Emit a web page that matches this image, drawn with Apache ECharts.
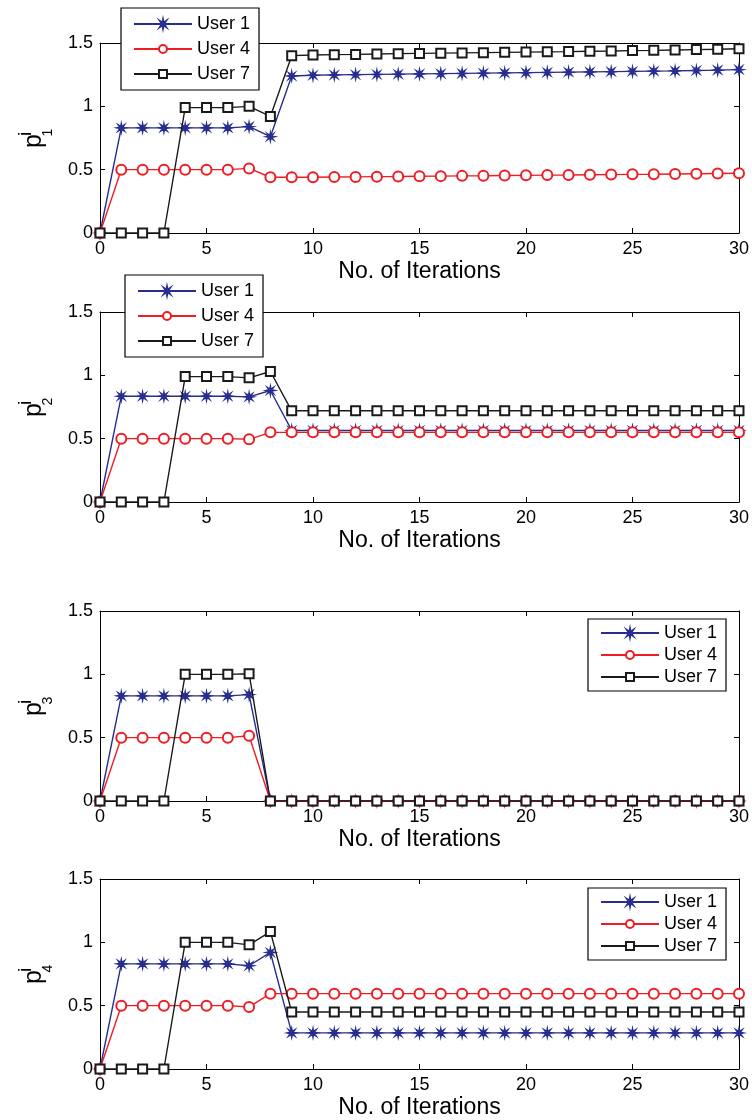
<!DOCTYPE html>
<html>
<head>
<meta charset="utf-8">
<script src="https://cdn.jsdelivr.net/npm/echarts@6/dist/echarts.min.js"></script>
<style>
html,body{margin:0;padding:0;background:#fff;}
#chart{width:752px;height:1120px;}
</style>
</head>
<body>
<div id="chart"></div>
<script>
// ---- data ----
var iterations = [0,1,2,3,4,5,6,7,8,9,10,11,12,13,14,15,16,17,18,19,20,21,22,23,24,25,26,27,28,29,30];
var seriesNames = ['User 1', 'User 4', 'User 7'];
var xTickLabels = ['0','5','10','15','20','25','30'];
var yTickLabels = ['0','0.5','1','1.5'];
var ySubscripts = ['1','2','3','4'];
var xAxisTitle = 'No. of Iterations';

var p1User1 = [0,0.83,0.83,0.83,0.83,0.83,0.83,0.84,0.76,1.24,1.245,1.248,1.25,1.252,1.254,1.256,1.258,1.26,1.262,1.264,1.266,1.268,1.27,1.272,1.274,1.276,1.278,1.28,1.283,1.286,1.29];
var p1User4 = [0,0.5,0.5,0.5,0.5,0.5,0.5,0.51,0.44,0.44,0.44,0.442,0.443,0.445,0.446,0.448,0.449,0.451,0.452,0.454,0.455,0.457,0.458,0.46,0.461,0.463,0.464,0.466,0.468,0.47,0.472];
var p1User7 = [0,0,0,0,0.99,0.99,0.99,1.0,0.92,1.40,1.405,1.408,1.41,1.413,1.416,1.418,1.42,1.422,1.424,1.426,1.428,1.43,1.432,1.435,1.437,1.44,1.442,1.445,1.448,1.451,1.455];

var p2User1 = [0,0.835,0.835,0.835,0.835,0.835,0.835,0.83,0.88,0.565,0.565,0.565,0.565,0.565,0.565,0.565,0.565,0.565,0.565,0.565,0.565,0.565,0.565,0.565,0.565,0.565,0.565,0.565,0.565,0.565,0.565];
var p2User4 = [0,0.5,0.5,0.5,0.5,0.5,0.5,0.495,0.55,0.55,0.55,0.55,0.55,0.55,0.55,0.55,0.55,0.55,0.55,0.55,0.55,0.55,0.55,0.55,0.55,0.55,0.55,0.55,0.55,0.55,0.55];
var p2User7 = [0,0,0,0,0.99,0.99,0.99,0.98,1.03,0.72,0.72,0.72,0.72,0.72,0.72,0.72,0.72,0.72,0.72,0.72,0.72,0.72,0.72,0.72,0.72,0.72,0.72,0.72,0.72,0.72,0.72];

var p3User1 = [0,0.83,0.83,0.83,0.83,0.83,0.83,0.84,0,0,0,0,0,0,0,0,0,0,0,0,0,0,0,0,0,0,0,0,0,0,0];
var p3User4 = [0,0.5,0.5,0.5,0.5,0.5,0.5,0.515,0,0,0,0,0,0,0,0,0,0,0,0,0,0,0,0,0,0,0,0,0,0,0];
var p3User7 = [0,0,0,0,1.0,1.0,1.0,1.005,0,0,0,0,0,0,0,0,0,0,0,0,0,0,0,0,0,0,0,0,0,0,0];

var p4User1 = [0,0.83,0.83,0.83,0.83,0.83,0.83,0.815,0.92,0.285,0.285,0.285,0.285,0.285,0.285,0.285,0.285,0.285,0.285,0.285,0.285,0.285,0.285,0.285,0.285,0.285,0.285,0.285,0.285,0.285,0.285];
var p4User4 = [0,0.5,0.5,0.5,0.5,0.5,0.5,0.49,0.595,0.595,0.595,0.595,0.595,0.595,0.595,0.595,0.595,0.595,0.595,0.595,0.595,0.595,0.595,0.595,0.595,0.595,0.595,0.595,0.595,0.595,0.595];
var p4User7 = [0,0,0,0,1.0,1.0,1.0,0.98,1.085,0.45,0.45,0.45,0.45,0.45,0.45,0.45,0.45,0.45,0.45,0.45,0.45,0.45,0.45,0.45,0.45,0.45,0.45,0.45,0.45,0.45,0.45];

var panels = [
  [p1User1, p1User4, p1User7],
  [p2User1, p2User4, p2User7],
  [p3User1, p3User4, p3User7],
  [p4User1, p4User4, p4User7]
];

// ---- styles / layout ----
var FONT = 'Liberation Sans, Arial, Helvetica, sans-serif';
var colors = ['#272e8f', '#ee1d23', '#1a1a1a'];
var asterisk = 'path://M20,10 L13.23,8.66 L17.07,2.93 L11.34,6.77 L10,0 L8.66,6.77 L2.93,2.93 L6.77,8.66 L0,10 L6.77,11.34 L2.93,17.07 L8.66,13.23 L10,20 L11.34,13.23 L17.07,17.07 L13.23,11.34 Z';
var symbols = [asterisk, 'emptyCircle', 'emptyRect'];
var symbolSizes = [9, 10, 9];
var gridTops = [43, 312, 611, 879];
var gridH = 190;
var legendPos = [
  {left: 121, top: 8, gap: 7, pad: [7, 9, 7, 12]},
  {left: 125, top: 275, gap: 7, pad: [7, 9, 7, 12]},
  {left: 588, top: 619, gap: 4, pad: [5, 9, 5, 12]},
  {left: 588, top: 888, gap: 4, pad: [5, 9, 5, 12]}
];

var grids = [], xAxes = [], yAxes = [], series = [], legends = [], graphics = [];
var tickStyle = {show: true, inside: true, length: 5, lineStyle: {color: '#000', width: 1}};
var lineStyleAxis = {show: true, onZero: false, lineStyle: {color: '#000', width: 1}};

panels.forEach(function (panel, g) {
  grids.push({left: 100, right: 12, top: gridTops[g], height: gridH, containLabel: false});
  xAxes.push({
    gridIndex: g, type: 'value', min: 0, max: 30, interval: 5, position: 'bottom',
    axisLine: lineStyleAxis, axisTick: tickStyle, splitLine: {show: false},
    axisLabel: {color: '#000', fontSize: 18, fontFamily: FONT, margin: 7,
      formatter: function (v) { return xTickLabels[v / 5]; }},
    name: xAxisTitle, nameLocation: 'middle', nameGap: 27,
    nameTextStyle: {color: '#000', fontSize: 23, fontFamily: FONT, verticalAlign: 'top'}
  });
  xAxes.push({
    gridIndex: g, type: 'value', min: 0, max: 30, interval: 5, position: 'top',
    axisLine: lineStyleAxis, axisTick: tickStyle, splitLine: {show: false},
    axisLabel: {show: false}
  });
  yAxes.push({
    gridIndex: g, type: 'value', min: 0, max: 1.5, interval: 0.5, position: 'left',
    axisLine: lineStyleAxis, axisTick: tickStyle, splitLine: {show: false},
    axisLabel: {color: '#000', fontSize: 18, fontFamily: FONT, margin: 7,
      formatter: function (v) { return yTickLabels[Math.round(v / 0.5)]; }}
  });
  yAxes.push({
    gridIndex: g, type: 'value', min: 0, max: 1.5, interval: 0.5, position: 'right',
    axisLine: lineStyleAxis, axisTick: tickStyle, splitLine: {show: false},
    axisLabel: {show: false}
  });
  panel.forEach(function (vals, s) {
    series.push({
      name: seriesNames[s], type: 'line',
      xAxisIndex: 2 * g, yAxisIndex: 2 * g,
      data: iterations.map(function (it, i) { return [it, vals[i]]; }),
      symbol: symbols[s], symbolSize: symbolSizes[s], showAllSymbol: true,
      lineStyle: {color: colors[s], width: 1.4},
      itemStyle: {color: colors[s], borderColor: colors[s], borderWidth: 1.4},
      emphasis: {disabled: true}, animation: false, z: 2 + s
    });
  });
  var lp = legendPos[g];
  legends.push({
    data: seriesNames.slice(), orient: 'vertical', left: lp.left, top: lp.top,
    itemWidth: 58, itemHeight: 10, itemGap: lp.gap,
    padding: lp.pad,
    backgroundColor: '#fff', borderColor: '#000', borderWidth: 1.2, borderRadius: 0,
    textStyle: {color: '#000', fontSize: 18, fontFamily: FONT},
    selectedMode: false, z: 10
  });
  var oy = gridTops[g] + 105;
  graphics.push({
    type: 'group', x: 43, y: oy, rotation: Math.PI / 2,
    children: [
      {type: 'text', x: 0, y: -9, style: {text: 'p', font: '25px ' + FONT, fill: '#000', align: 'left', verticalAlign: 'middle'}},
      {type: 'text', x: 14, y: -17.5, style: {text: 'i', font: '19px ' + FONT, fill: '#000', align: 'center', verticalAlign: 'middle'}},
      {type: 'text', x: 15.5, y: 5, style: {text: ySubscripts[g], font: '14px ' + FONT, fill: '#000', align: 'center', verticalAlign: 'middle'}}
    ]
  });
});

var chart = echarts.init(document.getElementById('chart'), null, {renderer: 'canvas'});
chart.setOption({
  animation: false,
  backgroundColor: '#fff',
  grid: grids, xAxis: xAxes, yAxis: yAxes, series: series,
  legend: legends, graphic: graphics
});
</script>
</body>
</html>
